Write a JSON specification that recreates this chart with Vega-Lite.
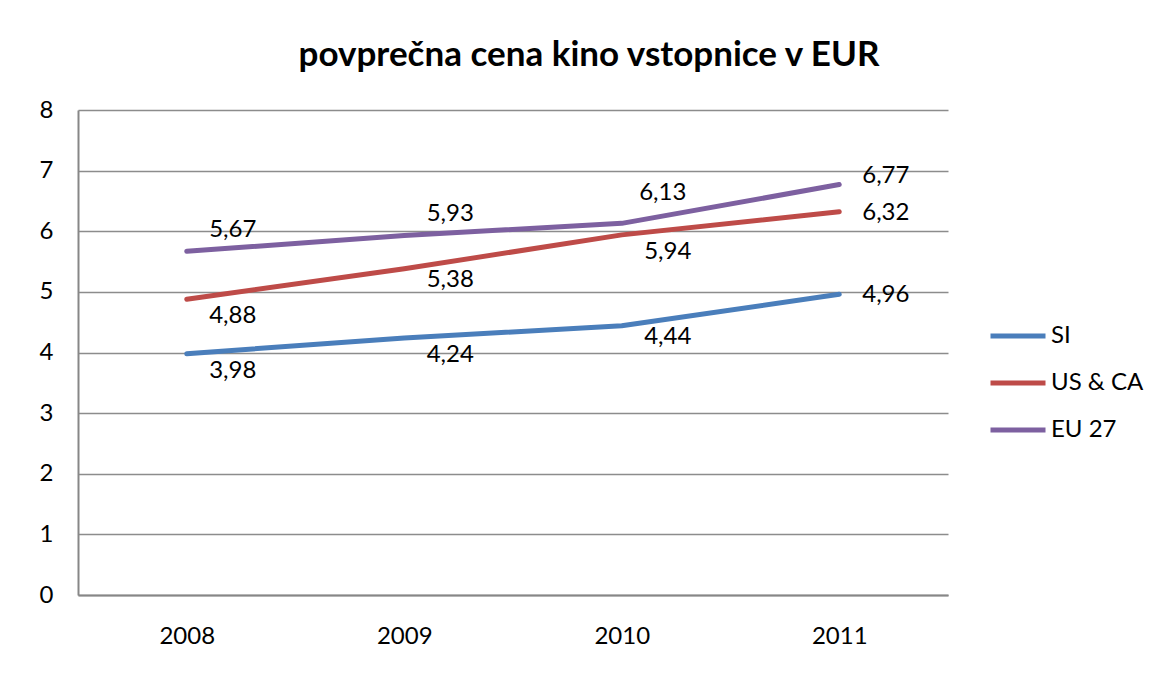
{
  "$schema": "https://vega.github.io/schema/vega-lite/v6.json",
  "width": 870,
  "height": 485,
  "autosize": {"type": "none"},
  "padding": {"left": 78, "top": 110, "right": 201, "bottom": 81},
  "background": "white",
  "title": {
    "text": "povprečna cena kino vstopnice v EUR",
    "font": "Lato",
    "fontSize": 35,
    "fontWeight": "bold",
    "color": "#000000",
    "anchor": "middle",
    "frame": "group",
    "dx": 76,
    "offset": 25
  },
  "config": {
    "locale": {"number": {"decimal": ",", "thousands": ".", "grouping": [3], "currency": ["", " €"]}},
    "view": {"stroke": null},
    "font": "Lato",
    "axis": {"labelFont": "Lato", "labelFontSize": 24, "labelColor": "#000000", "ticks": false, "title": null}
  },
  "data": {
    "values": [
      {"leto": "2008", "serija": "SI", "cena": 3.98},
      {"leto": "2009", "serija": "SI", "cena": 4.24},
      {"leto": "2010", "serija": "SI", "cena": 4.44},
      {"leto": "2011", "serija": "SI", "cena": 4.96},
      {"leto": "2008", "serija": "US & CA", "cena": 4.88},
      {"leto": "2009", "serija": "US & CA", "cena": 5.38},
      {"leto": "2010", "serija": "US & CA", "cena": 5.94},
      {"leto": "2011", "serija": "US & CA", "cena": 6.32},
      {"leto": "2008", "serija": "EU 27", "cena": 5.67},
      {"leto": "2009", "serija": "EU 27", "cena": 5.93},
      {"leto": "2010", "serija": "EU 27", "cena": 6.13},
      {"leto": "2011", "serija": "EU 27", "cena": 6.77}
    ]
  },
  "encoding": {
    "x": {
      "field": "leto",
      "type": "ordinal",
      "scale": {"type": "point", "padding": 0.5},
      "axis": {"labelAngle": 0, "labelPadding": 29, "domainColor": "#878787", "domainWidth": 2, "grid": false}
    },
    "y": {
      "field": "cena",
      "type": "quantitative",
      "scale": {"domain": [0, 8]},
      "axis": {"values": [0, 1, 2, 3, 4, 5, 6, 7, 8], "labelPadding": 25, "domainColor": "#878787", "domainWidth": 2, "gridColor": "#8c8c8c", "gridWidth": 1.5, "format": "d"}
    }
  },
  "layer": [
    {
      "mark": {"type": "line", "strokeWidth": 5, "strokeCap": "round", "strokeJoin": "round"},
      "encoding": {
        "color": {
          "field": "serija",
          "type": "nominal",
          "scale": {"domain": ["SI", "US & CA", "EU 27"], "range": ["#4A7EBB", "#BE4B48", "#7D60A0"]},
          "legend": {
            "title": null,
            "orient": "none",
            "legendX": 910,
            "legendY": 196,
            "symbolType": "stroke",
            "symbolSize": 3025,
            "symbolStrokeWidth": 5,
            "labelFont": "Lato",
            "labelFontSize": 24,
            "labelColor": "#000000",
            "labelOffset": 3,
            "rowPadding": 5
          }
        },
        "order": {"field": "leto"}
      }
    },
    {
      "transform": [{"filter": "(datum.serija == 'SI' && (datum.leto == '2008' || datum.leto == '2009')) || (datum.serija == 'US & CA' && (datum.leto == '2008' || datum.leto == '2010'))"}],
      "mark": {"type": "text", "fontSize": 24, "font": "Lato", "color": "#000000", "dx": 46, "dy": 17, "baseline": "middle"},
      "encoding": {"text": {"field": "cena", "type": "quantitative", "format": ".2f"}}
    },
    {
      "transform": [{"filter": "(datum.serija == 'SI' && datum.leto == '2010') || (datum.serija == 'US & CA' && datum.leto == '2009')"}],
      "mark": {"type": "text", "fontSize": 24, "font": "Lato", "color": "#000000", "dx": 46, "dy": 11, "baseline": "middle"},
      "encoding": {"text": {"field": "cena", "type": "quantitative", "format": ".2f"}}
    },
    {
      "transform": [{"filter": "datum.serija == 'EU 27' && (datum.leto == '2008' || datum.leto == '2009')"}],
      "mark": {"type": "text", "fontSize": 24, "font": "Lato", "color": "#000000", "dx": 46, "dy": -21, "baseline": "middle"},
      "encoding": {"text": {"field": "cena", "type": "quantitative", "format": ".2f"}}
    },
    {
      "transform": [{"filter": "datum.serija == 'EU 27' && datum.leto == '2010'"}],
      "mark": {"type": "text", "fontSize": 24, "font": "Lato", "color": "#000000", "dx": 41, "dy": -30, "baseline": "middle"},
      "encoding": {"text": {"field": "cena", "type": "quantitative", "format": ".2f"}}
    },
    {
      "transform": [{"filter": "datum.leto == '2011' && datum.serija != 'EU 27'"}],
      "mark": {"type": "text", "fontSize": 24, "font": "Lato", "color": "#000000", "dx": 23, "dy": 1, "align": "left", "baseline": "middle"},
      "encoding": {"text": {"field": "cena", "type": "quantitative", "format": ".2f"}}
    },
    {
      "transform": [{"filter": "datum.leto == '2011' && datum.serija == 'EU 27'"}],
      "mark": {"type": "text", "fontSize": 24, "font": "Lato", "color": "#000000", "dx": 23, "dy": -9, "align": "left", "baseline": "middle"},
      "encoding": {"text": {"field": "cena", "type": "quantitative", "format": ".2f"}}
    }
  ]
}
